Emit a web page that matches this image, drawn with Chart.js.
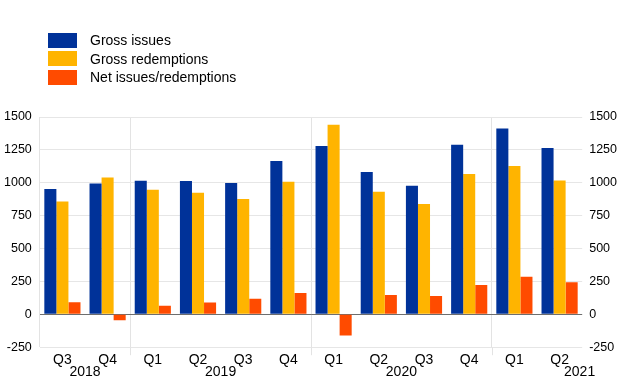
<!DOCTYPE html>
<html lang="en">
<head>
  <meta charset="UTF-8">
  <title>Gross issues and redemptions</title>
  <script src="https://cdn.jsdelivr.net/npm/chart.js@4.4.0/dist/chart.umd.min.js"></script>
  <style>
    body {
      margin: 0;
      background: #fff;
      font-family: "Liberation Sans", Arial, sans-serif;
    }
    #wrap {
      position: relative;
      width: 620px;
      height: 387px;
    }
    #legend {
      position: absolute;
      left: 48px;
      top: 31px;
    }
    .item {
      display: flex;
      align-items: center;
      height: 18.5px;
      font-size: 14px;
      color: #000;
    }
    .box {
      width: 29px;
      height: 15px;
      margin-right: 13px;
    }
  </style>
</head>
<body>
  <div id="wrap">
    <canvas id="chart" width="620" height="387"></canvas>
    <div id="legend"></div>
  </div>
  <script>
    const quarters = ['Q3', 'Q4', 'Q1', 'Q2', 'Q3', 'Q4', 'Q1', 'Q2', 'Q3', 'Q4', 'Q1', 'Q2'];
    const years = ['2018', '2018', '2019', '2019', '2019', '2019', '2020', '2020', '2020', '2020', '2021', '2021'];

    const grossIssues = [952, 995, 1015, 1013, 998, 1165, 1279, 1081, 977, 1289, 1413, 1264];
    const grossRedemptions = [858, 1041, 947, 924, 876, 1008, 1441, 932, 838, 1066, 1127, 1018];
    const netIssues = [91, -46, 66, 89, 119, 162, -162, 147, 139, 223, 286, 243];

    const seriesNames = ['Gross issues', 'Gross redemptions', 'Net issues/redemptions'];
    const colors = ['#003299', '#ffb400', '#ff4b00'];

    // legend as plain html, stacked vertically
    const legend = document.getElementById('legend');
    seriesNames.forEach((name, i) => {
      const row = document.createElement('div');
      row.className = 'item';
      row.innerHTML = '<span class="box" style="background:' + colors[i] + '"></span>' + name;
      legend.appendChild(row);
    });

    const yearLabels = {
      id: 'yearLabels',
      afterDraw(chart) {
        const x = chart.scales.x;
        const area = chart.chartArea;
        const ctx = chart.ctx;
        ctx.save();

        // small extensions of the year separators below the axis
        ctx.strokeStyle = '#e3e3e3';
        ctx.lineWidth = 1;
        quarters.forEach((q, i) => {
          if (q === 'Q1') {
            const px = Math.round((x.getPixelForValue(i - 1) + x.getPixelForValue(i)) / 2) + 0.5;
            ctx.beginPath();
            ctx.moveTo(px, area.bottom);
            ctx.lineTo(px, area.bottom + 8);
            ctx.stroke();
          }
        });

        ctx.fillStyle = '#000';
        ctx.font = '14px "Liberation Sans", Arial, sans-serif';
        ctx.textBaseline = 'middle';
        let start = 0;
        for (let i = 1; i <= years.length; i++) {
          if (i === years.length || years[i] !== years[start]) {
            const last = i === years.length;
            if (last && i - start < 4) {
              ctx.textAlign = 'right';
              ctx.fillText(years[start], area.right + 13, area.bottom + 25);
            } else {
              ctx.textAlign = 'center';
              const cx = (x.getPixelForValue(start) + x.getPixelForValue(i - 1)) / 2;
              ctx.fillText(years[start], cx, area.bottom + 25);
            }
            start = i;
          }
        }
        ctx.restore();
      }
    };

    const tickFont = { family: '"Liberation Sans", Arial, sans-serif', size: 12.5 };
    const plain = (v) => String(v);

    new Chart(document.getElementById('chart'), {
      type: 'bar',
      data: {
        labels: quarters,
        datasets: [
          { label: seriesNames[0], data: grossIssues, backgroundColor: colors[0], yAxisID: 'y' },
          { label: seriesNames[1], data: grossRedemptions, backgroundColor: colors[1], yAxisID: 'y' },
          { label: seriesNames[2], data: netIssues, backgroundColor: colors[2], yAxisID: 'y' }
        ]
      },
      options: {
        responsive: false,
        animation: false,
        devicePixelRatio: 1,
        datasets: {
          bar: { categoryPercentage: 0.8, barPercentage: 1.0 }
        },
        layout: {
          padding: { top: 117, bottom: 13, left: -4, right: -4 }
        },
        plugins: {
          legend: { display: false },
          tooltip: { enabled: false }
        },
        scales: {
          x: {
            offset: true,
            border: { display: false },
            grid: {
              offset: true,
              drawTicks: false,
              color: (c) => {
                if (c.index === 0 || c.index === quarters.length) return '#e3e3e3';
                return quarters[c.index] === 'Q1' ? '#e3e3e3' : 'rgba(0,0,0,0)';
              }
            },
            ticks: {
              color: '#000',
              padding: 5,
              maxRotation: 0,
              font: { family: '"Liberation Sans", Arial, sans-serif', size: 14 }
            }
          },
          y: {
            position: 'left',
            min: -250,
            max: 1500,
            border: { display: false },
            grid: {
              drawTicks: false,
              color: (c) => c.tick.value === 0 ? '#6e6e6e' : '#e6e6e6'
            },
            ticks: { stepSize: 250, padding: 8, color: '#000', font: tickFont, callback: plain }
          },
          y2: {
            position: 'right',
            min: -250,
            max: 1500,
            border: { display: false },
            grid: { display: false, drawTicks: false },
            ticks: { stepSize: 250, padding: 7, color: '#000', font: tickFont, callback: plain }
          }
        }
      },
      plugins: [yearLabels]
    });
  </script>
</body>
</html>
